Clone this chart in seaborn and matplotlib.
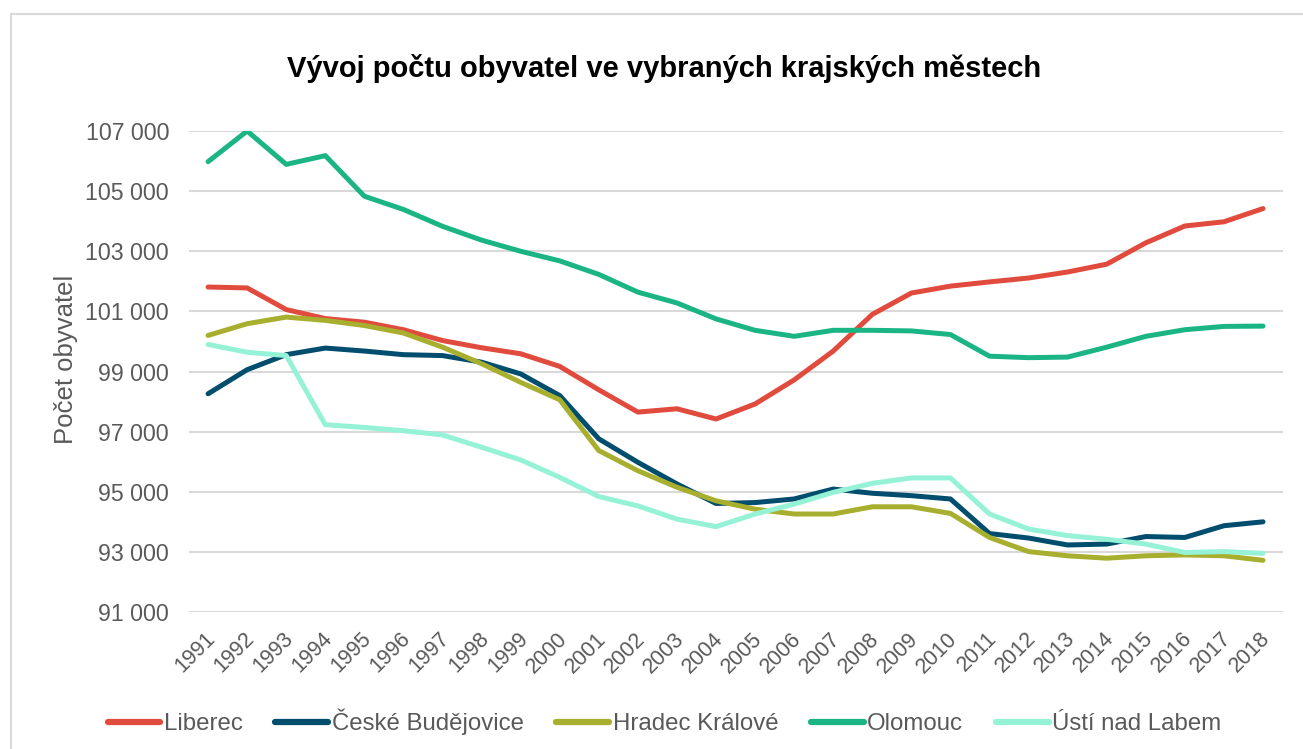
import pandas as pd
import matplotlib.pyplot as plt
import seaborn as sns
from matplotlib.ticker import FuncFormatter
from matplotlib.patches import Rectangle
from matplotlib.transforms import ScaledTranslation

# Data (počet obyvatel 1991-2018)
years = list(range(1991, 2019))
liberec = [101810, 101780, 101060, 100760, 100640, 100390, 100030, 99790, 99590, 99170,
           98390, 97650, 97760, 97420, 97920, 98720, 99680, 100900, 101610, 101840,
           101980, 102110, 102310, 102570, 103280, 103840, 103980, 104420]
ceske_budejovice = [98260, 99060, 99560, 99780, 99680, 99560, 99530, 99310, 98920, 98200,
                    96760, 95980, 95260, 94610, 94640, 94760, 95090, 94950, 94870, 94760,
                    93610, 93460, 93230, 93260, 93510, 93480, 93870, 94000]
hradec_kralove = [100200, 100590, 100810, 100700, 100530, 100280, 99810, 99260, 98640, 98060,
                  96370, 95700, 95150, 94700, 94420, 94260, 94260, 94500, 94500, 94280,
                  93480, 93010, 92870, 92790, 92870, 92900, 92870, 92720]
olomouc = [105980, 107000, 105890, 106180, 104830, 104390, 103830, 103370, 103000, 102680,
           102230, 101640, 101280, 100750, 100370, 100170, 100370, 100370, 100350, 100230,
           99510, 99460, 99480, 99810, 100170, 100390, 100500, 100510]
usti = [99900, 99640, 99530, 97230, 97140, 97030, 96890, 96480, 96060, 95480,
        94840, 94530, 94090, 93840, 94260, 94590, 94980, 95280, 95460, 95460,
        94260, 93760, 93540, 93420, 93260, 92980, 93010, 92950]

cities = ['Liberec', 'České Budějovice', 'Hradec Králové', 'Olomouc', 'Ústí nad Labem']
colors = ['#E04B3D', '#004D6E', '#A8AF2E', '#1BB585', '#95F2D6']
y_ticks = list(range(91000, 107001, 2000))

series = [liberec, ceske_budejovice, hradec_kralove, olomouc, usti]
frames = [pd.DataFrame({'rok': years, 'obyvatel': vals, 'mesto': name})
          for name, vals in zip(cities, series)]
df = pd.concat(frames, ignore_index=True)

sns.set_style('white')
plt.rcParams['font.family'] = ['Liberation Sans', 'DejaVu Sans']
gray = '#595959'

fig = plt.figure(figsize=(13.03, 7.49), dpi=100)
ax = fig.add_axes([0.1447, 0.1829, 0.8396, 0.6422])

sns.lineplot(data=df, x='rok', y='obyvatel', hue='mesto', hue_order=cities,
             palette=colors, linewidth=3.6, ax=ax, legend=True)
for line in ax.get_lines():
    line.set_solid_capstyle('round')
    line.set_solid_joinstyle('round')

ax.set_xlim(1990.5, 2018.5)
ax.set_ylim(91000, 107000)
ax.set_yticks(y_ticks)
ax.yaxis.set_major_formatter(FuncFormatter(lambda v, p: f'{int(v):,}'.replace(',', ' ')))
ax.set_xticks(years)
ax.set_xticklabels([str(y) for y in years], rotation=45, ha='right',
                   rotation_mode='anchor', va='center', fontsize=15.5)
ax.tick_params(axis='both', length=0, labelcolor=gray)
ax.tick_params(axis='y', labelsize=16.7, pad=14)
ax.tick_params(axis='x', pad=17)
shift = ScaledTranslation(4 / 100, 0, fig.dpi_scale_trans)
for lbl in ax.get_xticklabels():
    lbl.set_transform(lbl.get_transform() + shift)
ax.grid(axis='y', color='#D9D9D9', linewidth=1.5)
ax.set_axisbelow(True)
for s in ax.spines.values():
    s.set_visible(False)

ax.set_xlabel('')
ax.set_ylabel('Počet obyvatel', fontsize=18.5, color=gray)
ax.yaxis.set_label_coords(-0.101, 0.525)

handles, labels = ax.get_legend_handles_labels()
ax.legend(handles, labels, loc='center', bbox_to_anchor=(0.51, 0.036),
          bbox_transform=fig.transFigure, ncol=5, frameon=False, fontsize=17.3,
          labelcolor=gray, handlelength=2.2, handletextpad=0.15, columnspacing=1.35)
for lh in ax.get_legend().get_lines():
    lh.set_linewidth(4.5)
    lh.set_solid_capstyle('round')

fig.text(0.51, 0.908, 'Vývoj počtu obyvatel ve vybraných krajských městech',
         ha='center', va='center', fontsize=21, fontweight='bold', color='black')

fig.patches.append(Rectangle((11 / 1303, -0.05), 1.2, 1.05 - 14 / 749,
                             transform=fig.transFigure, fill=False,
                             edgecolor='#D9D9D9', linewidth=1.5))

fig.savefig('out.png', dpi=100)
